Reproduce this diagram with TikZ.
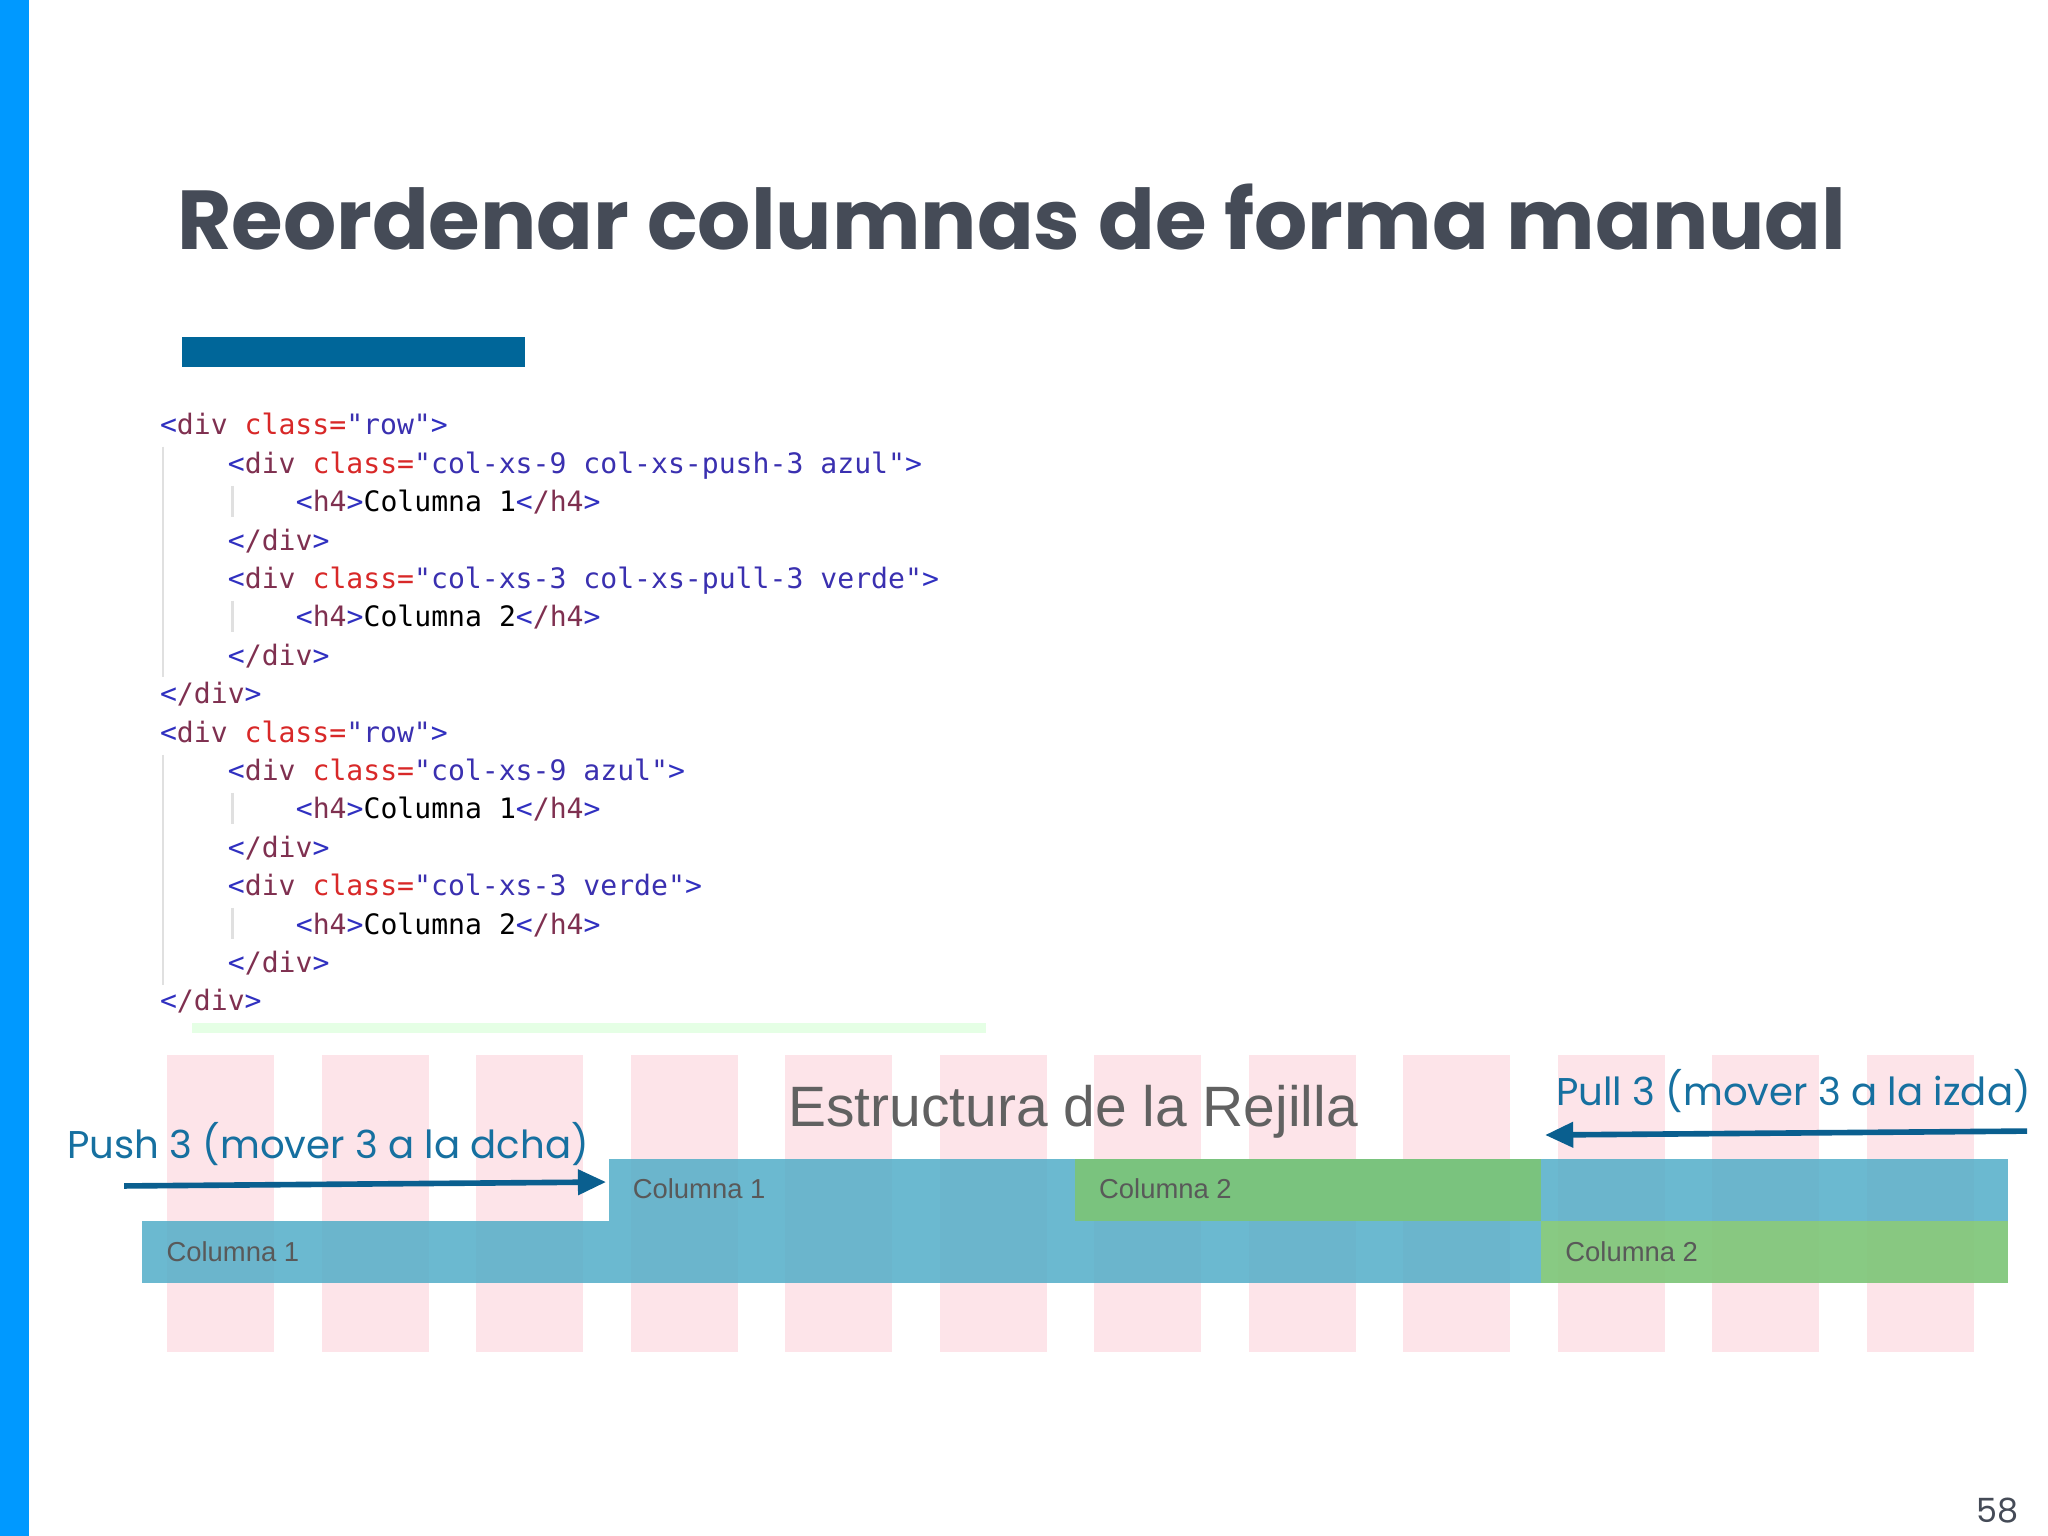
\documentclass[tikz,border=0pt]{standalone}
\usepackage{fontspec}
\setmainfont{Liberation Sans}
\newfontfamily\titlefont{Poppins}
\newfontfamily\codefont{DejaVu Sans Mono}
\usetikzlibrary{arrows.meta}
\definecolor{sidebar}{HTML}{0099FF}
\definecolor{titlec}{HTML}{454B57}
\definecolor{barc}{HTML}{006699}
\definecolor{brk}{HTML}{3030C0}
\definecolor{tagn}{HTML}{7F3050}
\definecolor{attr}{HTML}{D82828}
\definecolor{strc}{HTML}{3A30B0}
\definecolor{pinkc}{HTML}{FDE4E9}
\definecolor{bluec}{HTML}{5BC0DE}
\definecolor{greenc}{HTML}{7CC576}
\definecolor{arrc}{HTML}{0A5F8F}
\definecolor{labc}{HTML}{1670A0}
\newcommand\lt{\textcolor{brk}{<}}
\newcommand\gt{\textcolor{brk}{>}}
\newcommand\tn[1]{\textcolor{tagn}{#1}}
\newcommand\at[1]{\textcolor{attr}{#1}}
\newcommand\sv[1]{\textcolor{strc}{#1}}
\begin{document}
\begin{tikzpicture}[x=0.013061cm,y=-0.013061cm,
  code/.style={anchor=base west,inner sep=0,font=\codefont\fontsize{8}{9}\selectfont},
  gridlab/.style={anchor=west,inner sep=0,text=black!65,font=\fontsize{7.8}{9}\selectfont},
  callout/.style={anchor=west,inner sep=0,text=labc,font=\titlefont\fontsize{11}{12}\selectfont},
  arr/.style={draw=arrc,line width=1.6pt,-{Triangle[length=8pt,width=7pt]}}]
\useasboundingbox (0,0) rectangle (1568,1176);
\fill[white] (0,0) rectangle (1568,1176);
\fill[sidebar] (0,0) rectangle (22,1176);
\node[anchor=base west,inner sep=0,text=titlec,font=\titlefont\bfseries\fontsize{23.8}{28}\selectfont] (title) at (135,191) {Reordenar columnas de forma manual};
\fill[barc] (139,258) rectangle (402,281);
% indentation guides
\draw[black!12,line width=0.6pt] (125,342) -- (125,518) (125,578) -- (125,754);
\draw[black!12,line width=0.6pt] (178,372) -- (178,396) (178,460) -- (178,484) (178,607) -- (178,631) (178,695) -- (178,719);
% code
\node[code] (c1) at (122,333) {\lt\tn{div} \at{class=}\sv{"row"}\gt};
\node[code] (c2) at (174,362.4) {\lt\tn{div} \at{class=}\sv{"col-xs-9 col-xs-push-3 azul"}\gt};
\node[code] (c3) at (226,391.8) {\lt\tn{h4}\gt Columna 1\lt\tn{/h4}\gt};
\node[code] (c4) at (174,421.2) {\lt\tn{/div}\gt};
\node[code] (c5) at (174,450.6) {\lt\tn{div} \at{class=}\sv{"col-xs-3 col-xs-pull-3 verde"}\gt};
\node[code] (c6) at (226,480) {\lt\tn{h4}\gt Columna 2\lt\tn{/h4}\gt};
\node[code] (c7) at (174,509.4) {\lt\tn{/div}\gt};
\node[code] (c8) at (122,538.8) {\lt\tn{/div}\gt};
\node[code] (c9) at (122,568.2) {\lt\tn{div} \at{class=}\sv{"row"}\gt};
\node[code] (c10) at (174,597.6) {\lt\tn{div} \at{class=}\sv{"col-xs-9 azul"}\gt};
\node[code] (c11) at (226,627) {\lt\tn{h4}\gt Columna 1\lt\tn{/h4}\gt};
\node[code] (c12) at (174,656.4) {\lt\tn{/div}\gt};
\node[code] (c13) at (174,685.8) {\lt\tn{div} \at{class=}\sv{"col-xs-3 verde"}\gt};
\node[code] (c14) at (226,715.2) {\lt\tn{h4}\gt Columna 2\lt\tn{/h4}\gt};
\node[code] (c15) at (174,744.6) {\lt\tn{/div}\gt};
\node[code] (c16) at (122,774) {\lt\tn{/div}\gt};
\fill[green!40!white,opacity=0.25] (147,783) rectangle (755,791);
% grid stripes
\foreach \i in {0,...,11} \fill[pinkc] ({128+118.3*\i},808) rectangle ({210+118.3*\i},1035);
% rows
\fill[bluec!90!black,opacity=0.85] (466,887) rectangle (1537,935);
\fill[greenc,opacity=0.9] (823,887) rectangle (1180,935);
\fill[bluec!90!black,opacity=0.85] (109,935) rectangle (1180,982);
\fill[greenc,opacity=0.9] (1180,935) rectangle (1537,982);
\node[gridlab] (r1a) at (484,910) {Columna 1};
\node[gridlab] (r1b) at (841,910) {Columna 2};
\node[gridlab] (r2a) at (127,958) {Columna 1};
\node[gridlab] (r2b) at (1198,958) {Columna 2};
\node[anchor=west,inner sep=0,text=black!62,font=\fontsize{16.2}{19}\selectfont] (est) at (603,851) {Estructura de la Rejilla};
% callouts
\node[callout] (push) at (51,876) {Push 3 (mover 3 a la dcha)};
\node[callout] (pull) at (1191,835) {Pull 3 (mover 3 a la izda)};
\coordinate (ps) at (95,908);
\coordinate (pe) at (464,905);
\coordinate (qs) at (1552,866);
\coordinate (qe) at (1183,869);
\draw[arr] (ps) -- (pe);
\draw[arr] (qs) -- (qe);
\node[anchor=base east,inner sep=0,text=titlec,font=\titlefont\fontsize{9.5}{11}\selectfont] (pg) at (1546,1166) {58};
\end{tikzpicture}
\end{document}
